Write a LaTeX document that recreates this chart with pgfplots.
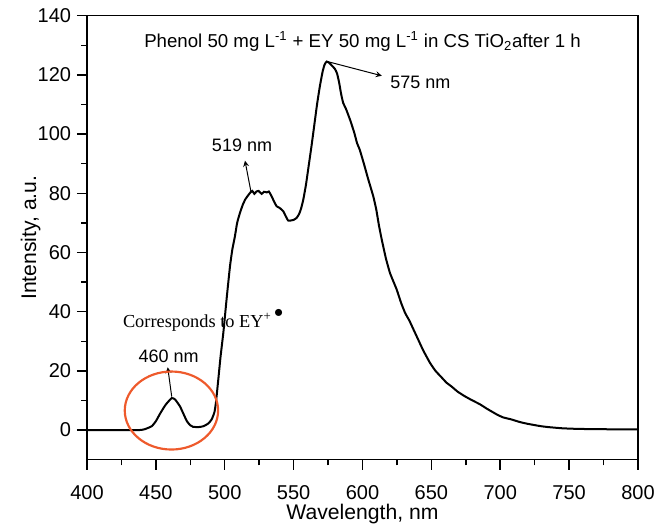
\documentclass[border=0pt]{standalone}
\usepackage{fontspec}
\setmainfont{Liberation Sans}
\newfontfamily\tnr{Liberation Serif}
\usepackage{pgfplots}
\pgfplotsset{compat=1.18}
\definecolor{ringred}{HTML}{EE5A2C}

\begin{document}
\begin{tikzpicture}
\begin{axis}[
    scale only axis,
    width=330.6pt, height=266.4pt,
    xmin=400, xmax=800,
    ymin=-10, ymax=140,
    xtick={400,450,...,800},
    ytick={0,20,...,140},
    minor x tick num=1,
    minor y tick num=1,
    xtick pos=bottom, ytick pos=left,
    tick align=outside,
    major tick length=6pt,
    minor tick length=3.5pt,
    axis line style={line width=0.9pt},
    every tick/.style={black, line width=0.9pt},
    ticklabel style={font=\fontsize{12}{14}\selectfont},
    xticklabel style={yshift=-6pt},
    /pgf/number format/assume math mode=true,
    xlabel={Wavelength, nm},
    ylabel={Intensity, a.u.},
    label style={font=\fontsize{12.7}{14}\selectfont},
    xlabel style={yshift=4pt},
    ylabel style={yshift=-8.5pt},
    clip=false,
]
\addplot[black, line width=1.2pt, smooth, tension=0.3] coordinates {
(400,0)(420,0)(438,0)(442,0.3)(447,1.3)(450,3)(453,5.5)(457,8.5)
(461.5,10.8)(464,10.3)(467.5,8)(470,5.5)(472.5,3)(475,1.6)(477,1.1)
(481,1.0)(484.5,1.3)(488,2.2)(490.5,3.6)(492.5,6)(493.6,9.3)(495.3,17)
(497,25)(499,33)(501.5,45)(503.8,55.3)(505.5,61)(507.4,65.5)(509,70)
(511,73.3)(513,76)(515,78)(518.3,80.1)(520,80.8)(521.5,79.8)(523,80.6)
(524.5,80.8)(526.8,79.8)(528.5,80.5)(530.5,80.3)(532,80.6)(534,79)
(536,77)(537.7,75.6)(540,75)(542.5,73.9)(544,72.5)(546,70.8)(548,70.8)
(550,71)(552.2,71.7)(554,73)(555.5,75)(557,77.8)(559,83)(561,89.5)
(563,96)(565,103)(567,110)(569,116)(571,121)(572.5,123.5)
(574,124.5)(576,124)(578,123)(580,122)(581.5,120.5)(583,117.5)(584.5,113.5)
(586,110.5)(588,108.5)(591,104.8)(594,100.5)(596,97)(598,94.7)(601,90)
(604,85)(607.8,79)(610,74.5)(612,69)(614,64.3)(617,58)(620,53)
(624.8,47.5)(628,43)(631,39.5)(634,37)(637,34)(640,31)(644,27)
(649,22.7)(653,20)(657,18)(661,16)(664.7,14.7)(669,13)(674,11.5)
(679,10.2)(685.3,8.7)(690,7.3)(697.4,5.3)(702,4.3)(708,3.6)(714.3,2.7)
(720,2.1)(728.9,1.35)(735,1.0)(745,0.6)(756,0.4)(770,0.3)(785,0.25)(800,0.2)
};

% annotations
\node[anchor=base, font=\fontsize{11.2}{13}\selectfont, inner sep=0pt]
  at (axis cs:600,129.3) {Phenol 50 mg L\textsuperscript{-1} + EY 50 mg L\textsuperscript{-1} in CS TiO\textsubscript{2}after 1 h};
\node[anchor=base west, font=\fontsize{10.8}{12}\selectfont, inner sep=0pt]
  at (axis cs:620,115.5) {575 nm};
\draw[-stealth, line width=0.6pt] (axis cs:574.5,124.5) -- (axis cs:614,119.7);
\node[anchor=base west, font=\fontsize{10.8}{12}\selectfont, inner sep=0pt]
  at (axis cs:490.5,94.1) {519 nm};
\draw[-stealth, line width=0.6pt] (axis cs:519,80.6) -- (axis cs:514.7,91);
\node[anchor=base west, font=\fontsize{10.8}{12}\selectfont, inner sep=0pt]
  at (axis cs:437.2,22.9) {460 nm};
\draw[-stealth, line width=0.6pt] (axis cs:461.5,11.3) -- (axis cs:458.6,21.2);
\node[anchor=base west, font=\tnr\fontsize{11}{13}\selectfont, inner sep=0pt]
  at (axis cs:425.9,34.8) {Corresponds to EY\textsuperscript{+}\hspace{1.5pt}\raisebox{5.5pt}{$\bullet$}};
\draw[ringred, line width=1.3pt] (axis cs:461.3,6.6) ellipse [x radius=28pt, y radius=23.4pt];
\end{axis}
\pgfresetboundingbox
\path[use as bounding box] ([xshift=-52.2pt,yshift=-39.6pt]current axis.south west)
  rectangle ([xshift=19.2pt,yshift=9.4pt]current axis.north east);
\end{tikzpicture}
\end{document}
